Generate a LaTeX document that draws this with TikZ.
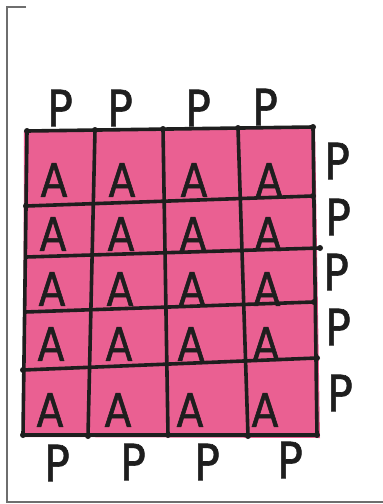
\documentclass[tikz,border=0pt]{standalone}
\usepackage{fontspec}
\setmainfont{DejaVu Sans}
\newfontfamily\handfont[FakeBold=1.2,FakeStretch=0.85]{DejaVu Sans}
\definecolor{cellpink}{RGB}{234,96,146}
\definecolor{ink}{RGB}{30,30,30}
\definecolor{frame}{RGB}{110,110,110}
\begin{document}
\begin{tikzpicture}[x=1pt,y=-1pt,
  gridline/.style={draw=ink,line width=3.6pt,line cap=round},
  framel/.style={draw=frame,line width=1.8pt},
  letA/.style={inner sep=0pt,font=\handfont\fontsize{46}{46}\selectfont,text=ink},
  letP/.style={inner sep=0pt,font=\handfont\fontsize{50}{50}\selectfont,text=ink},
  dot/.style={circle,fill=ink,inner sep=0pt,minimum size=6pt}]
\useasboundingbox (0,0) rectangle (383,504);
\fill[white] (0,0) rectangle (383,504);
% page frame
\draw[framel] (26,7) -- (7,7) -- (7,502) -- (383,502);
% pink fill
\fill[cellpink] (24,131) -- (315,126) -- (320,438) -- (23,437) -- cycle;
% grid coordinates
\coordinate (t0) at (27,131); \coordinate (t1) at (95,130); \coordinate (t2) at (163,129); \coordinate (t3) at (238,128); \coordinate (t4) at (313,127);
\coordinate (b0) at (23,435); \coordinate (b1) at (88,436); \coordinate (b2) at (168,435); \coordinate (b3) at (248,436); \coordinate (b4) at (317,435);
\coordinate (l1) at (26,206); \coordinate (r1) at (313,196);
\coordinate (l2) at (26,257); \coordinate (r2) at (320,248);
\coordinate (l3) at (25,312); \coordinate (r3) at (314,302);
\coordinate (l4) at (23,370); \coordinate (r4) at (317,358);
% horizontal lines
\draw[gridline] (t0) -- (t4);
\draw[gridline] (l1) -- (r1);
\draw[gridline] (l2) -- (r2);
\draw[gridline] (l3) -- (r3);
\draw[gridline] (l4) -- (r4);
\draw[gridline] (b0) -- (b4);
% vertical lines
\draw[gridline] (t0) -- (b0);
\draw[gridline] (t1) -- (b1);
\draw[gridline] (t2) -- (b2);
\draw[gridline] (t3) -- (b3);
\draw[gridline] (t4) -- (b4);
% dots at edge intersections
\foreach \c in {t0,t1,t2,t3,t4,b0,b1,b2,b3,b4,r1,r2,r3,r4,l1,l4}
  \node[dot] at (\c) {};
% A letters
\foreach \r/\y in {1/180,2/234,3/289,4/344,5/410}{
  \foreach \c/\x in {1/55,2/123,3/195,4/270}{
    \node[letA] (a\r\c) at (\x+\r*-1,\y) {A};
  }
}
% top P
\node[letP] (pt1) at (60,108) {P};
\node[letP] (pt2) at (120,108) {P};
\node[letP] (pt3) at (198,108) {P};
\node[letP] (pt4) at (265,107) {P};
% right P
\node[letP] (pr1) at (337,161) {P};
\node[letP] (pr2) at (338,217) {P};
\node[letP] (pr3) at (336,272) {P};
\node[letP] (pr4) at (338,327) {P};
\node[letP] (pr5) at (340,393) {P};
% bottom P
\node[letP] (pb1) at (57,463) {P};
\node[letP] (pb2) at (133,462) {P};
\node[letP] (pb3) at (207,462) {P};
\node[letP] (pb4) at (290,460) {P};
\end{tikzpicture}
\end{document}
